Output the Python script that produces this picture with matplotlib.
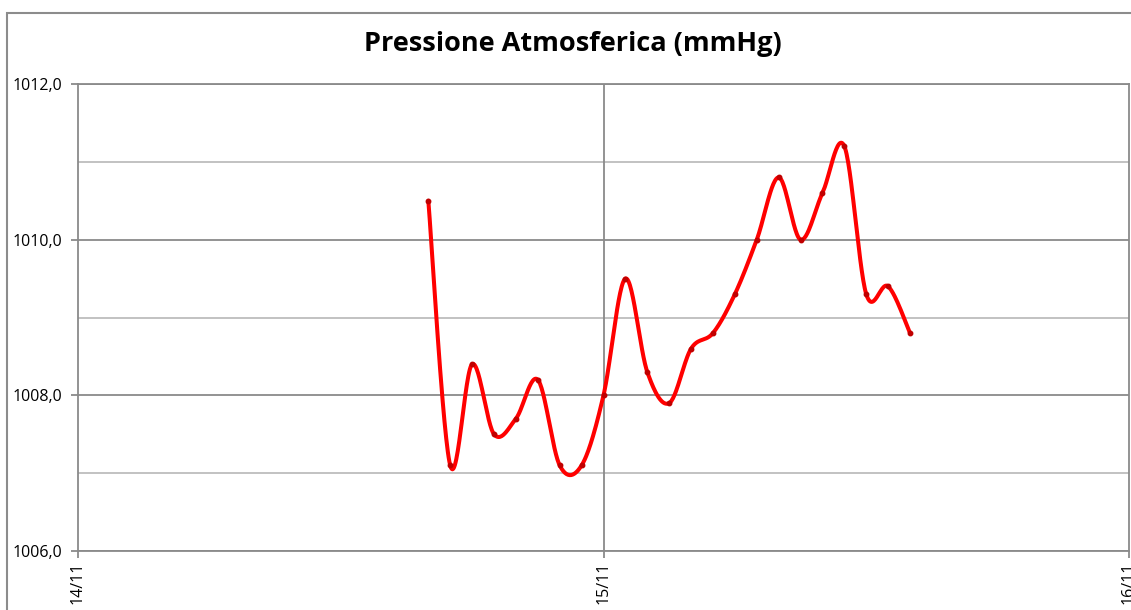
import numpy as np
import matplotlib
matplotlib.use('Agg')
from matplotlib import pyplot as plt
from matplotlib.patches import Rectangle

# hourly readings, hours counted from 14/11 00:00
hours = [16, 17, 18, 19, 20, 21, 22, 23, 24, 25, 26, 27, 28, 29, 30, 31, 32, 33, 34, 35, 36, 37, 38]
pressure = [1010.5, 1007.1, 1008.4, 1007.5, 1007.7, 1008.2, 1007.1, 1007.1, 1008.0, 1009.5, 1008.3, 1007.9,
            1008.6, 1008.8, 1009.3, 1010.0, 1010.8, 1010.0, 1010.6, 1011.2, 1009.3, 1009.4, 1008.8]
day_ticks = [0, 24, 48]
day_labels = ['14/11', '15/11', '16/11']
y_major = [1006, 1008, 1010, 1012]
y_minor = [1007, 1009, 1011]


def smooth(x, y, n=30):
    # Catmull-Rom style bezier smoothing (as in spreadsheet "smoothed line")
    x = np.asarray(x, float)
    y = np.asarray(y, float)
    px = np.concatenate([[x[0]], x, [x[-1]]])
    py = np.concatenate([[y[0]], y, [y[-1]]])
    xs, ys = [], []
    t = np.linspace(0, 1, n)
    for i in range(1, len(px) - 2):
        p0 = np.array([px[i], py[i]])
        p3 = np.array([px[i + 1], py[i + 1]])
        c1 = p0 + (np.array([px[i + 1], py[i + 1]]) - np.array([px[i - 1], py[i - 1]])) / 6
        c2 = p3 - (np.array([px[i + 2], py[i + 2]]) - np.array([px[i], py[i]])) / 6
        b = ((1 - t) ** 3)[:, None] * p0 + (3 * (1 - t) ** 2 * t)[:, None] * c1 \
            + (3 * (1 - t) * t ** 2)[:, None] * c2 + (t ** 3)[:, None] * p3
        xs.extend(b[:, 0])
        ys.extend(b[:, 1])
    return xs, ys


fig = plt.figure(figsize=(11.31, 6.10), dpi=100)
ax = fig.add_axes([78 / 1131, 1 - 551 / 610, (1129 - 78) / 1131, (551 - 84) / 610])

# chart border
fig.patches.append(Rectangle((7 / 1131, -0.1), 2, (610 - 13) / 610 + 0.1, transform=fig.transFigure,
                             fill=False, edgecolor='#8c8c8c', lw=1.5))

for v in y_minor:
    ax.axhline(v, color='#bdbdbd', lw=1.3, zorder=1)
for v in y_major:
    ax.axhline(v, color='#8a8a8a', lw=1.3, zorder=1)
ax.axvline(24, color='#8a8a8a', lw=1.3, zorder=1)

sx, sy = smooth(hours, pressure)
ax.plot(sx, sy, color='#ff0000', lw=2.9, zorder=3, solid_capstyle='round')
ax.plot(hours, pressure, 'o', color='#c00000', ms=3.2, zorder=4)

ax.set_xlim(0, 48)
ax.set_ylim(1006, 1012)
ax.set_xticks(day_ticks)
ax.set_xticklabels(day_labels, rotation=90, fontsize=11.5, family='Open Sans')
ax.set_yticks(y_major)
ax.set_yticklabels([('%.1f' % v).replace('.', ',') for v in y_major], fontsize=11.5, family='Open Sans')
ax.tick_params(axis='both', direction='out', length=5, width=1.3, color='#8a8a8a')
ax.tick_params(axis='y', pad=6)
ax.tick_params(axis='x', pad=3)
for s in ax.spines.values():
    s.set_color('#8a8a8a')
    s.set_linewidth(1.3)

fig.text(573 / 1131, 1 - 44 / 610, 'Pressione Atmosferica (mmHg)', ha='center', va='center',
         fontsize=19.5, fontweight='bold', family='Open Sans')

fig.savefig('out.png', dpi=100)
